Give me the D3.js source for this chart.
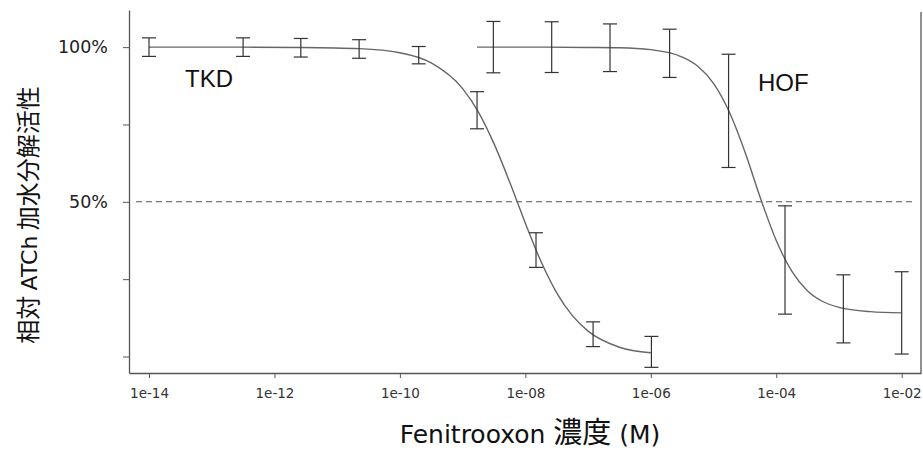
<!DOCTYPE html>
<html>
<head>
<meta charset="utf-8">
<script src="https://cdn.jsdelivr.net/npm/d3@7"></script>
<style>
  body { margin: 0; background: #fff; }
  svg { display: block; }
</style>
</head>
<body>
<script>
// measured points (log10 of concentration in M, relative activity %)
const tkdLogConc = [-14.0, -12.5, -11.58, -10.65, -9.7, -8.77, -7.83, -6.92, -5.99]
const tkdMean = [100, 100, 99.8, 99.4, 97.4, 79.6, 34.4, 7.2, 1.5]
const tkdErr = [3, 3, 3, 3, 2.8, 6, 5.6, 4, 5]

const hofLogConc = [-8.51, -7.58, -6.65, -5.70, -4.76, -3.86, -2.93, -2.0]
const hofMean = [100, 100, 99.8, 98, 79.4, 31.2, 15.4, 14.1]
const hofErr = [8.3, 8.2, 7.7, 7.8, 18.3, 17.5, 11, 13.3]

// fitted curves
const tkdCurveLog = [-14, -12.5, -11.6, -10.65, -10, -9.5, -9, -8.75, -8.5, -8.25, -8, -7.75, -7.5, -7.25, -7, -6.5, -6]
const tkdCurveVal = [100, 100, 99.9, 99.5, 98.2, 94.9, 86.6, 79.1, 68.8, 56.4, 43.1, 30.7, 20.6, 13.2, 8.2, 3.0, 1.2]

const hofCurveLog = [-8.77, -8, -7, -6.5, -6, -5.5, -5.25, -5, -4.75, -4.5, -4.25, -4, -3.75, -3.5, -3.25, -3, -2.5, -2]
const hofCurveVal = [100, 100, 99.9, 99.8, 99.2, 96.8, 93.8, 88.3, 79.1, 66.2, 51.1, 37.5, 27.5, 21.2, 17.7, 15.9, 14.5, 14.1]

const xTicks = [1e-14, 1e-12, 1e-10, 1e-8, 1e-6, 1e-4, 1e-2]
const yTicks = [0, 25, 50, 75, 100]
const yLabels = { 50: "50%", 100: "100%" }

const w = 923
const h = 452

const svg = d3.select("body")
  .append("svg")
  .attr("width", w)
  .attr("height", h)

const xScale = d3.scaleLog()
  .domain([Math.pow(10, -14.319), Math.pow(10, -1.692)])
  .range([129, 921])

const yScale = d3.scaleLinear()
  .domain([-5.33, 112])
  .range([373, 10])

const axisColor = "#555"

// x axis
const xAxis = d3.axisBottom(xScale)
  .tickValues(xTicks)
  .tickFormat(d => {
    const e = Math.round(Math.log10(d))
    return "1e-" + String(-e).padStart(2, "0")
  })
  .tickSize(5)
  .tickSizeOuter(0)
  .tickPadding(10)

const gx = svg.append("g")
  .attr("transform", "translate(0," + yScale.range()[0] + ")")
  .call(xAxis)
gx.select(".domain").attr("stroke", axisColor).attr("stroke-width", 1.3)
gx.selectAll(".tick line").attr("stroke", axisColor)
gx.selectAll(".tick text")
  .attr("fill", "#333")
  .style("font-family", "DejaVu Sans")
  .style("font-size", "13.5px")

// y axis
const yAxis = d3.axisLeft(yScale)
  .tickValues(yTicks)
  .tickFormat(d => yLabels[d] || "")
  .tickSize(6)
  .tickSizeOuter(0)
  .tickPadding(15)

const gy = svg.append("g")
  .attr("transform", "translate(" + xScale.range()[0] + ",0)")
  .call(yAxis)
gy.select(".domain").attr("stroke", axisColor).attr("stroke-width", 1.3)
gy.selectAll(".tick line").attr("stroke", axisColor)
gy.selectAll(".tick text")
  .attr("fill", "#222")
  .style("font-family", "DejaVu Sans")
  .style("font-size", "17.5px")

// right frame line
svg.append("line")
  .attr("x1", xScale.range()[1])
  .attr("x2", xScale.range()[1])
  .attr("y1", yScale.range()[0])
  .attr("y2", yScale.range()[1] + 2)
  .attr("stroke", axisColor)
  .attr("stroke-width", 1.3)

// 50% reference line
svg.append("line")
  .attr("x1", xScale.range()[0] + 7)
  .attr("x2", xScale.range()[1] - 7)
  .attr("y1", yScale(50))
  .attr("y2", yScale(50))
  .attr("stroke", "#555")
  .attr("stroke-width", 1.1)
  .attr("stroke-dasharray", "6,4")

// curves
const line = d3.line()
  .x(d => xScale(Math.pow(10, d[0])))
  .y(d => yScale(d[1]))
  .curve(d3.curveMonotoneX)

function drawCurve(logs, vals) {
  svg.append("path")
    .datum(logs.map((v, i) => [v, vals[i]]))
    .attr("d", line)
    .attr("fill", "none")
    .attr("stroke", "#666")
    .attr("stroke-width", 1.4)
}
drawCurve(tkdCurveLog, tkdCurveVal)
drawCurve(hofCurveLog, hofCurveVal)

// error bars
function drawErrors(logs, means, errs) {
  const data = logs.map((v, i) => ({ x: Math.pow(10, v), m: means[i], e: errs[i] }))
  const g = svg.append("g")
    .attr("stroke", "#333")
    .attr("stroke-width", 1.2)
  const cap = 7
  g.selectAll(".bar")
    .data(data)
    .enter()
    .append("line")
    .attr("x1", d => xScale(d.x))
    .attr("x2", d => xScale(d.x))
    .attr("y1", d => yScale(d.m - d.e))
    .attr("y2", d => yScale(d.m + d.e))
  g.selectAll(".top")
    .data(data)
    .enter()
    .append("line")
    .attr("x1", d => xScale(d.x) - cap)
    .attr("x2", d => xScale(d.x) + cap)
    .attr("y1", d => yScale(d.m + d.e))
    .attr("y2", d => yScale(d.m + d.e))
  g.selectAll(".bottom")
    .data(data)
    .enter()
    .append("line")
    .attr("x1", d => xScale(d.x) - cap)
    .attr("x2", d => xScale(d.x) + cap)
    .attr("y1", d => yScale(d.m - d.e))
    .attr("y2", d => yScale(d.m - d.e))
}
drawErrors(tkdLogConc, tkdMean, tkdErr)
drawErrors(hofLogConc, hofMean, hofErr)

// series labels
svg.append("text")
  .attr("x", 185)
  .attr("y", 87)
  .text("TKD")
  .style("font-family", "Liberation Sans")
  .style("font-size", "24px")
  .attr("fill", "#111")

svg.append("text")
  .attr("x", 758)
  .attr("y", 91)
  .text("HOF")
  .style("font-family", "Liberation Sans")
  .style("font-size", "24px")
  .attr("fill", "#111")

// x title
const xt = svg.append("text")
  .attr("x", 530)
  .attr("y", 443)
  .attr("text-anchor", "middle")
  .attr("fill", "#111")
  .style("font-family", "DejaVu Sans")
  .style("font-size", "25px")
xt.append("tspan").text("Fenitrooxon ")
xt.append("tspan").text("濃度")
  .style("font-family", "Noto Sans CJK JP")
  .style("font-size", "29px")
xt.append("tspan").text(" (M)")

// y title
const yt = svg.append("text")
  .attr("transform", "translate(37,215) rotate(-90)")
  .attr("text-anchor", "middle")
  .attr("fill", "#111")
  .style("font-family", "Noto Sans CJK JP")
  .style("font-size", "24px")
yt.append("tspan").text("相対 ")
yt.append("tspan").text("ATCh")
  .style("font-family", "DejaVu Sans")
  .style("font-size", "22px")
yt.append("tspan").text(" 加水分解活性")
</script>
</body>
</html>
